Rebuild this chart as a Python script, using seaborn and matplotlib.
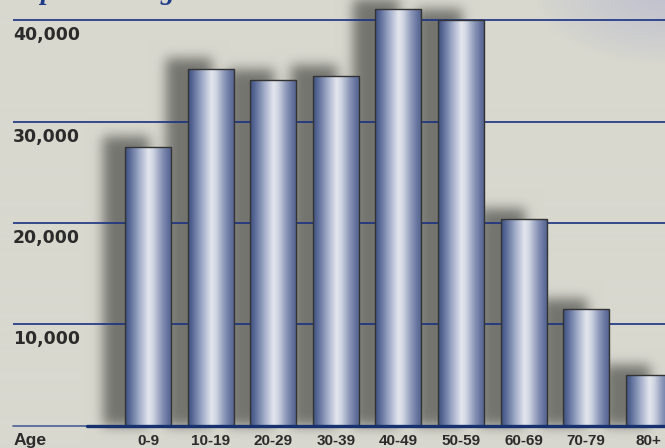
import numpy as np
import pandas as pd
import matplotlib
matplotlib.use("Agg")
import matplotlib.pyplot as plt
import matplotlib.transforms as mtransforms
import seaborn as sns

# Population by age band
age_groups = ["0-9", "10-19", "20-29", "30-39", "40-49", "50-59", "60-69", "70-79", "80+"]
population = [27500, 35200, 34100, 34500, 41100, 40000, 20400, 11500, 5000]
y_ticks = [10000, 20000, 30000, 40000]
y_tick_labels = ["10,000", "20,000", "30,000", "40,000"]
title_text = "Population Age"
axis_label = "Age"

W, H, DPI = 665, 448, 100
NAVY = "#1a3182"
TEXT = "#2b2b2b"

sns.set_theme(style="white")
plt.rcParams["font.family"] = ["DejaVu Sans"]

fig = plt.figure(figsize=(W / DPI, H / DPI), dpi=DPI)

# plotting area: from x=13px to the right edge, baseline at 425.5px from top
ax_left, ax_base = 13, 425.5
ax = fig.add_axes([ax_left / W, (H - ax_base) / H, (W - ax_left) / W, ax_base / H])
ax.patch.set_alpha(0)

df = pd.DataFrame({"age": age_groups, "population": population})
sns.barplot(data=df, x="age", y="population", ax=ax, width=0.735,
            color="#5a6d9c", edgecolor="#333333", linewidth=1.0,
            errorbar=None, saturation=1, zorder=3)

xlim = (-2.157, 8.259)
ylim = (0, 42004)
ax.set_xlim(*xlim)
ax.set_ylim(*ylim)

# cylinder shading for each bar
stops = [(0.00, (60, 78, 126)), (0.12, (96, 112, 156)), (0.32, (166, 176, 204)),
         (0.50, (228, 230, 238)), (0.60, (208, 213, 227)), (0.78, (138, 150, 184)),
         (0.92, (98, 112, 156)), (1.00, (82, 96, 140))]
pos = np.array([s[0] for s in stops])
cols = np.array([s[1] for s in stops], dtype=float) / 255
t = np.linspace(0, 1, 200)
grad = np.stack([np.interp(t, pos, cols[:, k]) for k in range(3)], axis=-1)[None, :, :]

for p in ax.patches:
    x0, w, h = p.get_x(), p.get_width(), p.get_height()
    p.set_facecolor("none")
    im = ax.imshow(grad, extent=[x0, x0 + w, 0, h], aspect="auto",
                   interpolation="bilinear", zorder=2.5)
    im.set_clip_path(p)
ax.set_xlim(*xlim)
ax.set_ylim(*ylim)

# background with soft drop shadows behind the bars
yy, xx = np.mgrid[0:H, 0:W].astype(float)
bg = np.ones((H, W, 3)) * np.array([216, 216, 207]) / 255
d = np.sqrt(((xx - 665) / 130) ** 2 + ((yy + 5) / 70) ** 2)
wgt = np.clip(1 - d, 0, 1)[..., None] ** 0.8
bg = bg * (1 - wgt) + wgt * np.array([192, 193, 206]) / 255

mask = np.zeros((H, W))
dx, dy = -22, -10
for p in ax.patches:
    (px0, py0), (px1, py1) = ax.transData.transform(
        [(p.get_x(), 0), (p.get_x() + p.get_width(), p.get_height())])
    c0, c1 = int(round(px0 + dx)), int(round(px1 + dx))
    r_top = int(round(H - py1 + dy))
    r_bot = int(round(H - py0))
    mask[max(r_top, 0):max(r_bot, 0), max(c0, 0):max(min(c1, W), 0)] = 1.0

sigma = 6
k = np.arange(-3 * sigma, 3 * sigma + 1)
kern = np.exp(-k ** 2 / (2 * sigma ** 2))
kern /= kern.sum()
mask = np.apply_along_axis(lambda r: np.convolve(r, kern, mode="same"), 1, mask)
mask = np.apply_along_axis(lambda c: np.convolve(c, kern, mode="same"), 0, mask)
bg = bg * (1 - 0.46 * mask[..., None])

bg_ax = fig.add_axes([0, 0, 1, 1], zorder=-1)
bg_ax.imshow(bg, extent=[0, 1, 0, 1], aspect="auto", interpolation="bilinear")
bg_ax.axis("off")

# gridlines and labels
ax.set_yticks(y_ticks)
ax.set_yticklabels([])
ax.tick_params(axis="y", length=0)
ax.set_axisbelow(True)
ax.grid(axis="y", color=NAVY, linewidth=1.2)
ax.grid(axis="x", visible=False)
for s in ax.spines.values():
    s.set_visible(False)

lab_tr = mtransforms.blended_transform_factory(ax.transAxes, ax.transData) + \
    mtransforms.ScaledTranslation(0, -6 / DPI, fig.dpi_scale_trans)
for v, lab in zip(y_ticks, y_tick_labels):
    ax.text(0, v, lab, transform=lab_tr, ha="left", va="top",
            fontsize=12.4, fontweight="bold", color=TEXT)

# baseline: thin lead-in, thick rule under the bars
split = (87 - ax_left) / (W - ax_left)
ax.axhline(0, xmin=0, xmax=split, color="#4a5f96", linewidth=1.2, clip_on=False, zorder=4)
ax.axhline(0, xmin=split, xmax=1, color="#17306e", linewidth=2.4, clip_on=False, zorder=4)

ax.set_xlabel("")
ax.set_ylabel("")
ax.tick_params(axis="x", length=0, pad=6)
ax.set_xticks(range(len(age_groups)))
ax.set_xticklabels(age_groups, fontsize=11, fontweight="bold", color=TEXT,
                   fontfamily="Liberation Sans")

fig.text(14 / W, 3 / H, axis_label, ha="left", va="baseline", fontsize=12.6,
         fontweight="bold", color=TEXT, fontfamily="Liberation Sans")

fig.text(10 / W, 1 + 1.5 / H, title_text, ha="left", va="baseline", fontsize=20,
         fontweight="bold", fontstyle="italic", color="#1f3c88",
         fontfamily="Liberation Serif")

fig.savefig("out.png", dpi=DPI)
